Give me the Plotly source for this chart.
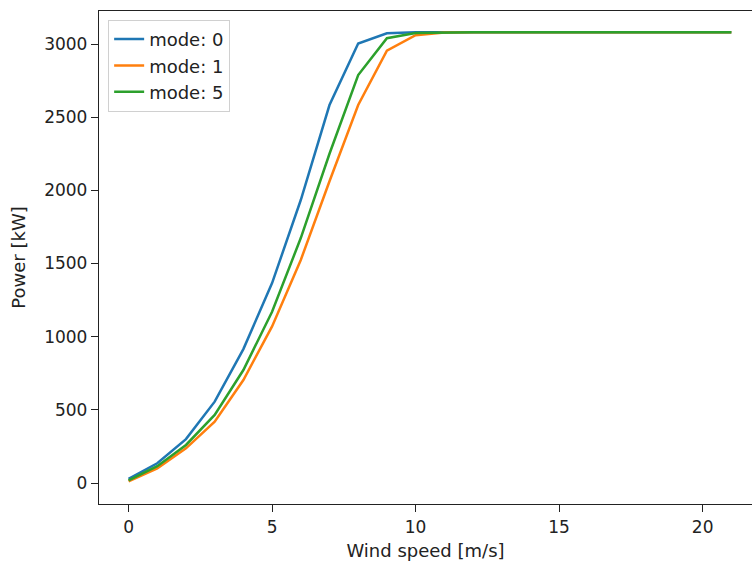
import plotly.graph_objects as go

wind_speed = list(range(0, 22))
mode_0 = [28, 135, 300, 556, 915, 1366, 1934, 2583, 3003, 3073, 3080, 3080, 3080, 3080, 3080, 3080, 3080, 3080, 3080, 3080, 3080, 3080]
mode_1 = [12, 100, 237, 419, 704, 1070, 1524, 2062, 2583, 2955, 3060, 3078, 3080, 3080, 3080, 3080, 3080, 3080, 3080, 3080, 3080, 3080]
mode_5 = [18, 115, 260, 465, 772, 1170, 1674, 2250, 2788, 3040, 3075, 3080, 3080, 3080, 3080, 3080, 3080, 3080, 3080, 3080, 3080, 3080]
series = [("mode: 0", mode_0, "#1f77b4"), ("mode: 1", mode_1, "#ff7f0e"), ("mode: 5", mode_5, "#2ca02c")]
x_ticks = [0, 5, 10, 15, 20]
y_ticks = [0, 500, 1000, 1500, 2000, 2500, 3000]

fig = go.Figure()
for i, (name, vals, color) in enumerate(series):
    fig.add_trace(go.Scatter(x=wind_speed, y=vals, mode="lines", name=name,
                             legendgroup=f"g{i}",
                             line=dict(color=color, width=2.5)))

tick_font = dict(family="DejaVu Sans", size=17, color="#222222")
title_font = dict(family="DejaVu Sans", size=18, color="#222222")
fig.update_layout(
    width=752, height=563,
    margin=dict(l=99, r=0, t=11, b=59),
    paper_bgcolor="white", plot_bgcolor="white",
    font=tick_font,
    showlegend=True,
    legend=dict(x=0.014, y=0.982, xanchor="left", yanchor="top",
                bgcolor="rgba(255,255,255,0.8)", bordercolor="#d0d0d0", borderwidth=1,
                font=dict(family="DejaVu Sans", size=18, color="#222222"),
                traceorder="grouped", tracegroupgap=0),
    xaxis=dict(range=[-1.03, 21.72], tickmode="array", tickvals=x_ticks,
               showgrid=False, zeroline=False, showline=True, linecolor="#222222", linewidth=1.3,
               mirror=True, ticks="outside", ticklen=7, tickcolor="#222222", tickwidth=1.3,
               tickfont=tick_font,
               title=dict(text="Wind speed [m/s]", standoff=8, font=title_font)),
    yaxis=dict(range=[-143.5, 3225.6], tickmode="array", tickvals=y_ticks,
               showgrid=False, zeroline=False, showline=True, linecolor="#222222", linewidth=1.3,
               mirror=False, ticks="outside", ticklen=7, tickcolor="#222222", tickwidth=1.3,
               tickfont=tick_font,
               title=dict(text="Power [kW]", standoff=13, font=title_font)),
)
fig.write_html("out.html")
